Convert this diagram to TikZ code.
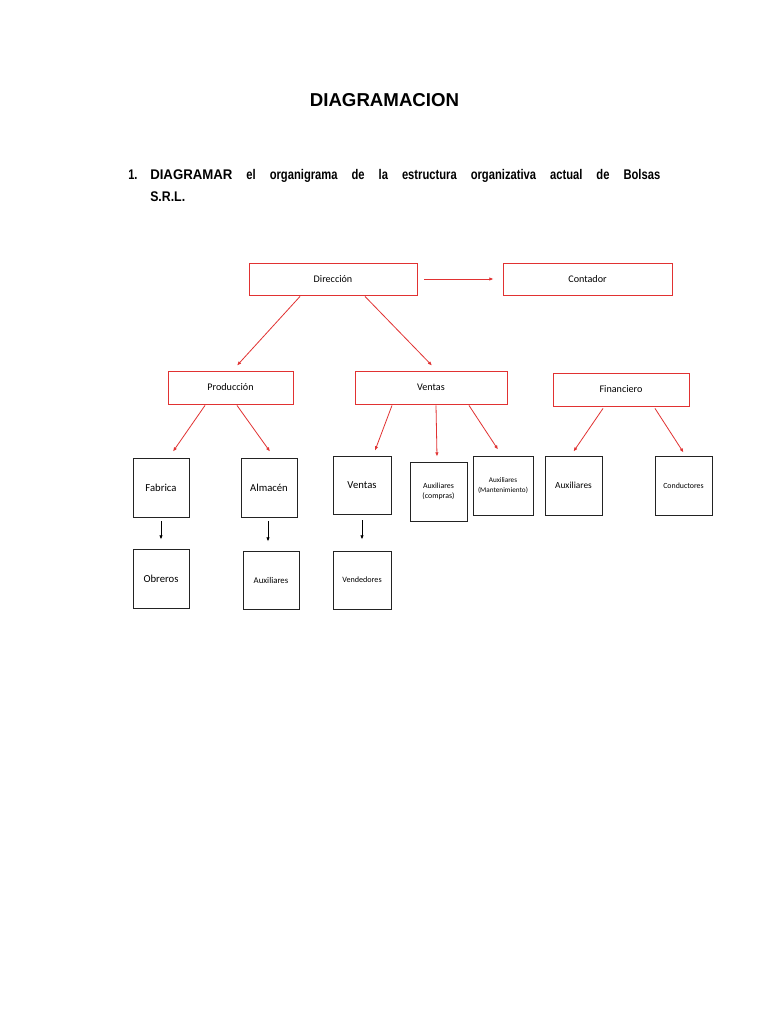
\documentclass[tikz,border=0pt]{standalone}
\usepackage{fontspec}
\setmainfont{Liberation Sans}
\newfontfamily\boxfont{Carlito}
\newfontfamily\headnarrow[FakeStretch=0.8]{Liberation Sans}
\usetikzlibrary{calc,arrows.meta}
\definecolor{rcol}{RGB}{225,50,50}
\definecolor{bcol}{RGB}{35,35,35}
\tikzset{
  rbox/.style={draw=rcol, line width=0.65pt, inner sep=0pt, font=\boxfont\fontsize{7.6}{9}\selectfont, align=center},
  bbox/.style={draw=bcol, line width=0.65pt, inner sep=0pt, font=\boxfont\fontsize{8}{9.5}\selectfont, align=center, minimum width=42.5pt, minimum height=44pt},
  rarr/.style={draw=rcol, line width=0.6pt, -{Latex[length=3.2pt,width=2.6pt]}},
  barr/.style={draw=black, line width=0.6pt, -{Latex[length=3.2pt,width=2.6pt]}}
}
\begin{document}
\begin{tikzpicture}[x=0.75pt,y=-0.75pt]
\useasboundingbox[fill=white] (0,0) rectangle (768,1024);
% header
\node[anchor=base, inner sep=0, font=\bfseries\fontsize{14}{16}\selectfont] (title) at (384.5,107) {DIAGRAMACION};
\node[anchor=base west, inner sep=0, font=\headnarrow\bfseries\fontsize{10.5}{13}\selectfont] (num) at (128,179) {1.};
\node[anchor=base west, inner sep=0, font=\headnarrow\bfseries\fontsize{10.5}{13}\selectfont] (line1) at (150,179) {\makebox[382.5pt][s]{\scalebox{1.18}[1]{DIAGRAMAR} el organigrama de la estructura organizativa actual de Bolsas}};
\node[anchor=base west, inner sep=0, font=\headnarrow\bfseries\fontsize{10.5}{13}\selectfont] (line2) at (150,201) {\scalebox{1.1}[1]{S.R.L.}};
% red boxes
\node[rbox, minimum width=126pt, minimum height=24pt] (dir) at (333,279) {Dirección};
\node[rbox, minimum width=126.75pt, minimum height=24pt] (cont) at (587.5,279) {Contador};
\node[rbox, minimum width=93.75pt, minimum height=24.75pt] (prod) at (230.5,387.5) {Producción};
\node[rbox, minimum width=114pt, minimum height=24.75pt] (vent) at (431,387.5) {Ventas};
\node[rbox, minimum width=102pt, minimum height=24.75pt] (fin) at (621,389.5) {Financiero};
% black boxes
\node[bbox, minimum width=42pt, minimum height=44.25pt] (fab) at (161,487.5) {Fabrica};
\node[bbox, minimum width=42pt, minimum height=44.25pt] (alm) at (269,487.5) {Almacén};
\node[bbox, minimum width=43.5pt, minimum height=43.5pt] (ventb) at (362,485) {Ventas};
\node[bbox, minimum width=42.75pt, minimum height=44.25pt, font=\boxfont\fontsize{5.9}{7.5}\selectfont] (auxc) at (438.5,491.5) {Auxiliares\\(compras)};
\node[bbox, minimum width=45pt, minimum height=44.25pt, font=\boxfont\fontsize{5.4}{7.2}\selectfont] (auxm) at (503,485.5) {Auxiliares\\(Mantenimiento)};
\node[bbox, minimum width=42.75pt, minimum height=44.25pt, font=\boxfont\fontsize{7}{8}\selectfont] (aux) at (573.5,485.5) {Auxiliares};
\node[bbox, minimum width=42.75pt, minimum height=44.25pt, font=\boxfont\fontsize{5.9}{7}\selectfont] (cond) at (683.5,485.5) {Conductores};
\node[bbox, minimum width=42pt, minimum height=44.25pt] (obr) at (161,578.5) {Obreros};
\node[bbox, minimum width=42pt, minimum height=43.5pt, font=\boxfont\fontsize{6.6}{7}\selectfont] (auxs) at (271,580) {Auxiliares};
\node[bbox, minimum width=43.5pt, minimum height=43.5pt, font=\boxfont\fontsize{6.1}{7}\selectfont] (vend) at (362,580) {Vendedores};
% red arrows
\draw[rarr] ($(dir.east)+(7,0)$) -- ($(cont.west)+(-9,0)$);
\draw[rarr] ($(dir.south)+(-33,1)$) -- ($(prod.north)+(6.5,-5)$);
\draw[rarr] ($(dir.south)+(32,1)$) -- ($(vent.north)+(1,-5)$);
\draw[rarr] ($(prod.south)+(-25.5,1)$) -- ($(fab.north)+(12,-6)$);
\draw[rarr] ($(prod.south)+(6.5,1)$) -- ($(alm.north)+(1,-6)$);
\draw[rarr] ($(vent.south)+(-39,1)$) -- ($(ventb.north)+(13,-5)$);
\draw[rarr] ($(vent.south)+(5,1)$) -- ($(auxc.north)+(-1.5,-5)$);
\draw[rarr] ($(vent.south)+(38,1)$) -- ($(auxm.north)+(-5,-6)$);
\draw[rarr] ($(fin.south)+(-18,2)$) -- ($(aux.north)+(0,-4)$);
\draw[rarr] ($(fin.south)+(34,2)$) -- ($(cond.north)+(0,-3)$);
% black arrows
\draw[barr] ($(fab.south)+(0,4)$) -- ($(obr.north)+(0,-9)$);
\draw[barr] ($(alm.south)+(-1,4)$) -- ($(auxs.north)+(-3,-9)$);
\draw[barr] ($(ventb.south)+(0,6)$) -- ($(vend.north)+(0,-11)$);
\end{tikzpicture}
\end{document}
